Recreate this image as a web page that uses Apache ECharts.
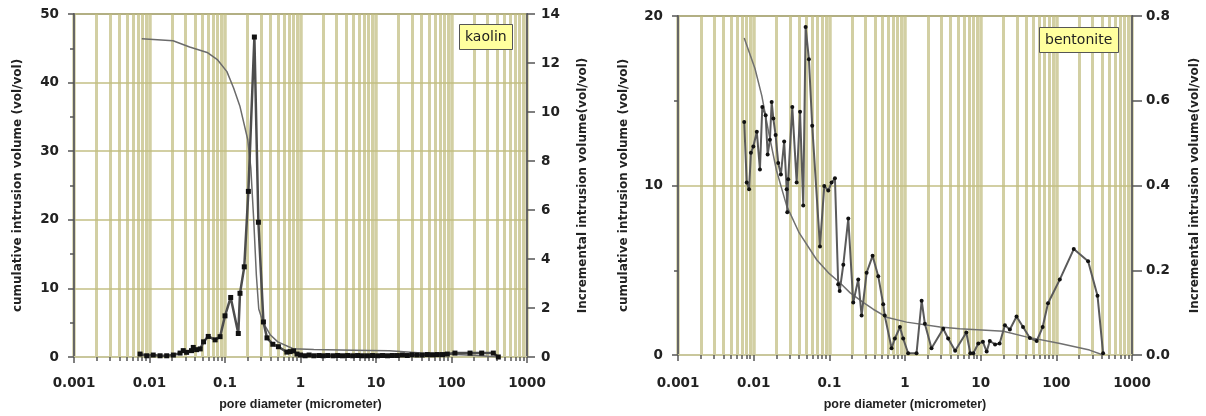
<!DOCTYPE html>
<html>
<head>
<meta charset="utf-8">
<script src="https://cdn.jsdelivr.net/npm/echarts@6/dist/echarts.min.js"></script>
<style>
  html, body { margin: 0; padding: 0; background: #fff; }
  #chart { width: 1206px; height: 416px; }
</style>
</head>
<body>
<div id="chart"></div>
<script>
// tick labels
const xTickLabels = ['0.001', '0.01', '0.1', '1', '10', '100', '1000']
const kaolinLeftTicks = ['0', '10', '20', '30', '40', '50']
const kaolinRightTicks = ['0', '2', '4', '6', '8', '10', '12', '14']
const bentoniteLeftTicks = ['0', '10', '20']
const bentoniteRightTicks = ['0.0', '0.2', '0.4', '0.6', '0.8']

// kaolin: [pore diameter (um), value]
const kaolinCumulative = [
  [0.0079, 46.4], [0.0205, 46.1], [0.034, 45.2], [0.058, 44.4], [0.08, 43.3],
  [0.106, 41.6], [0.13, 39.2], [0.158, 36.5], [0.2, 31.7], [0.22, 27.5],
  [0.24, 20], [0.26, 12], [0.28, 7], [0.32, 5.0], [0.4, 3.2], [0.5, 2.2],
  [0.8, 1.2], [1.5, 1.1], [5, 1.0], [15, 0.9], [40, 0.6], [100, 0.4],
  [250, 0.2], [420, 0]
]
const kaolinIncremental = [
  [0.0075, 0.12], [0.0092, 0.05], [0.0112, 0.08], [0.0138, 0.05], [0.0169, 0.05],
  [0.0207, 0.08], [0.0254, 0.16], [0.028, 0.26], [0.031, 0.19], [0.036, 0.26],
  [0.038, 0.39], [0.042, 0.30], [0.047, 0.33], [0.052, 0.62], [0.06, 0.84],
  [0.074, 0.70], [0.086, 0.83], [0.1, 1.68], [0.119, 2.43], [0.15, 0.96],
  [0.158, 2.6], [0.18, 3.68], [0.204, 6.76], [0.245, 13.06], [0.277, 5.5],
  [0.323, 1.43], [0.36, 0.78], [0.43, 0.52], [0.51, 0.42], [0.66, 0.2],
  [0.73, 0.22], [0.81, 0.25], [0.9, 0.12], [1.0, 0.08], [1.15, 0.05],
  [1.3, 0.08], [1.5, 0.05], [1.75, 0.06], [2.0, 0.05], [2.3, 0.06], [2.7, 0.05],
  [3.1, 0.06], [3.6, 0.05], [4.2, 0.06], [4.9, 0.05], [5.7, 0.06], [6.6, 0.05],
  [7.7, 0.05], [9, 0.06], [10.5, 0.05], [12.2, 0.06], [14.2, 0.05], [16.5, 0.06],
  [19.2, 0.06], [22.4, 0.08], [26, 0.06], [30, 0.09], [35, 0.08], [41, 0.08],
  [48, 0.1], [56, 0.09], [65, 0.1], [76, 0.1], [88, 0.12], [111, 0.16],
  [176, 0.16], [251, 0.16], [358, 0.16], [417, 0.0]
]

// bentonite
const bentoniteCumulative = [
  [0.0075, 18.7], [0.0104, 16.9], [0.0128, 15.3], [0.016, 13.0], [0.02, 10.9],
  [0.0273, 8.8], [0.04, 7.2], [0.068, 5.62], [0.1, 4.8], [0.138, 4.26],
  [0.187, 3.68], [0.28, 3.1], [0.38, 2.7], [0.57, 2.23], [1.05, 1.94],
  [2.9, 1.65], [5.3, 1.55], [20, 1.4], [40, 1.07], [112, 0.68], [275, 0.29],
  [415, 0.0]
]
const bentoniteIncremental = [
  [0.0075, 0.55], [0.0081, 0.407], [0.0087, 0.391], [0.0092, 0.477], [0.0099, 0.492],
  [0.011, 0.527], [0.0121, 0.438], [0.013, 0.585], [0.0144, 0.566], [0.0153, 0.473],
  [0.0164, 0.508], [0.0173, 0.597], [0.0182, 0.558], [0.0195, 0.519], [0.0211, 0.453],
  [0.0229, 0.426], [0.0253, 0.504], [0.0273, 0.391], [0.0278, 0.337], [0.0286, 0.415],
  [0.0324, 0.585], [0.037, 0.407], [0.041, 0.574], [0.0452, 0.353], [0.0486, 0.774],
  [0.0537, 0.698], [0.0594, 0.541], [0.0752, 0.256], [0.0857, 0.399], [0.0968, 0.388],
  [0.107, 0.407], [0.1186, 0.417], [0.131, 0.167], [0.137, 0.151], [0.153, 0.213],
  [0.178, 0.322], [0.207, 0.124], [0.241, 0.178], [0.267, 0.093], [0.311, 0.194],
  [0.373, 0.234], [0.443, 0.186], [0.515, 0.12], [0.54, 0.093], [0.665, 0.016],
  [0.735, 0.039], [0.857, 0.066], [0.946, 0.039], [1.1, 0.004], [1.42, 0.004],
  [1.66, 0.128], [1.83, 0.074], [2.24, 0.016], [3.2, 0.062], [3.72, 0.039],
  [4.6, 0.01], [6.46, 0.053], [7.3, 0.004], [8.0, 0.004], [9.3, 0.027],
  [10.7, 0.031], [12.0, 0.008], [13.2, 0.033], [15.5, 0.025], [17.8, 0.027],
  [20.9, 0.07], [24.3, 0.06], [29.8, 0.091], [36.3, 0.066], [44.7, 0.04],
  [55, 0.033], [66, 0.066], [77.6, 0.122], [111, 0.178], [170, 0.25],
  [263, 0.221], [350, 0.14], [415, 0.004]
]

const FONT = 'DejaVu Sans'
const OLIVE = 'rgba(192,189,128,0.72)'
const AXIS_DARK = '#666'

function xAxisFor(gridIndex, labelMargin, nameGap) {
  return {
    type: 'log',
    logBase: 10,
    gridIndex,
    min: 0.001,
    max: 1000,
    interval: 1,
    axisLine: { show: true, onZero: false, lineStyle: { color: '#c9c79c', width: 2 } },
    axisTick: { show: true, length: 6, lineStyle: { color: '#555', width: 1.5 } },
    minorTick: { show: true, splitNumber: 9, length: 4, lineStyle: { color: '#555', width: 1.5 } },
    splitLine: { show: true, lineStyle: { color: OLIVE, width: 3.5 } },
    minorSplitLine: { show: true, lineStyle: { color: OLIVE, width: 3 } },
    axisLabel: {
      margin: labelMargin,
      fontFamily: FONT, fontWeight: 'bold', fontSize: 13.5, color: '#222',
      formatter: (v, i) => xTickLabels[i]
    },
    name: 'pore diameter (micrometer)',
    nameLocation: 'middle',
    nameGap,
    nameTextStyle: { fontFamily: 'Liberation Sans', fontWeight: 'bold', fontSize: 12.5, color: '#222' }
  }
}

function yAxisFor(gridIndex, position, max, interval, labels, name, nameGap, opts) {
  return Object.assign({
    type: 'value',
    gridIndex,
    position,
    min: 0,
    max,
    interval,
    axisLine: { show: true, lineStyle: { color: AXIS_DARK, width: 2 } },
    axisTick: { show: true, length: 6, lineStyle: { color: '#555', width: 1.5 } },
    splitLine: { show: false },
    axisLabel: {
      margin: position === 'left' ? 15 : 14,
      fontFamily: FONT, fontWeight: 'bold', fontSize: 13.5, color: '#222',
      formatter: (v, i) => labels[i]
    },
    name,
    nameLocation: 'middle',
    nameRotate: 90,
    nameGap,
    nameTextStyle: { fontFamily: FONT, fontWeight: 'bold', fontSize: 12, color: '#222' }
  }, opts)
}

const chart = echarts.init(document.getElementById('chart'), null, { renderer: 'canvas' })

chart.setOption({
  animation: false,
  backgroundColor: '#fff',
  title: [
    {
      text: 'kaolin', left: 459, top: 24,
      backgroundColor: '#ffff9e', borderColor: '#555', borderWidth: 1, padding: [6, 6],
      textStyle: { fontFamily: FONT, fontSize: 14, fontWeight: 'normal', color: '#222' }
    },
    {
      text: 'bentonite', left: 1039, top: 27,
      backgroundColor: '#ffff9e', borderColor: '#555', borderWidth: 1, padding: [6, 6],
      textStyle: { fontFamily: FONT, fontSize: 14, fontWeight: 'normal', color: '#222' }
    }
  ],
  grid: [
    { left: 74, right: 679, top: 14, bottom: 58, show: true, borderColor: AXIS_DARK, borderWidth: 1.5, backgroundColor: 'transparent' },
    { left: 678, right: 74, top: 16, bottom: 56, show: true, borderColor: AXIS_DARK, borderWidth: 1.5, backgroundColor: 'transparent' }
  ],
  xAxis: [xAxisFor(0, 19, 41), xAxisFor(1, 21, 43)],
  yAxis: [
    yAxisFor(0, 'left', 50, 10, kaolinLeftTicks, 'cumulative intrusion volume (vol/vol)', 50, {
      minorTick: { show: true, splitNumber: 2, length: 4, lineStyle: { color: '#555', width: 1.5 } },
      splitLine: { show: true, lineStyle: { color: OLIVE, width: 2 } }
    }),
    yAxisFor(0, 'right', 14, 2, kaolinRightTicks, 'Incremental intrusion volume(vol/vol)', 50, {
      axisTick: { show: true, length: 8, lineStyle: { color: '#555', width: 1.5 } }
    }),
    yAxisFor(1, 'left', 20, 10, bentoniteLeftTicks, 'cumulative intrusion volume (vol/vol)', 48, {
      minorTick: { show: true, splitNumber: 2, length: 4, lineStyle: { color: '#555', width: 1.5 } },
      splitLine: { show: true, lineStyle: { color: OLIVE, width: 2 } }
    }),
    yAxisFor(1, 'right', 0.8, 0.2, bentoniteRightTicks, 'Incremental intrusion volume(vol/vol)', 57, {
      axisTick: { show: true, length: 10, lineStyle: { color: '#555', width: 1.5 } },
      axisLabel: {
        margin: 14,
        fontFamily: FONT, fontWeight: 'bold', fontSize: 13.5, color: '#222',
        formatter: (v, i) => bentoniteRightTicks[i]
      }
    })
  ],
  series: [
    {
      name: 'kaolin cumulative', type: 'line', xAxisIndex: 0, yAxisIndex: 0,
      data: kaolinCumulative, symbol: 'none', z: 3,
      lineStyle: { color: '#6b6b6b', width: 1.5 }
    },
    {
      name: 'kaolin incremental', type: 'line', xAxisIndex: 0, yAxisIndex: 1,
      data: kaolinIncremental, symbol: 'rect', symbolSize: 5, z: 4,
      itemStyle: { color: '#111' },
      lineStyle: { color: '#4d4d4d', width: 2.5 }
    },
    {
      name: 'bentonite cumulative', type: 'line', xAxisIndex: 1, yAxisIndex: 2,
      data: bentoniteCumulative, symbol: 'none', z: 3,
      lineStyle: { color: '#707070', width: 1.5 }
    },
    {
      name: 'bentonite incremental', type: 'line', xAxisIndex: 1, yAxisIndex: 3,
      data: bentoniteIncremental, symbol: 'circle', symbolSize: 4, z: 4,
      itemStyle: { color: '#111' },
      lineStyle: { color: '#5a5a5a', width: 2 }
    }
  ]
})
</script>
</body>
</html>
